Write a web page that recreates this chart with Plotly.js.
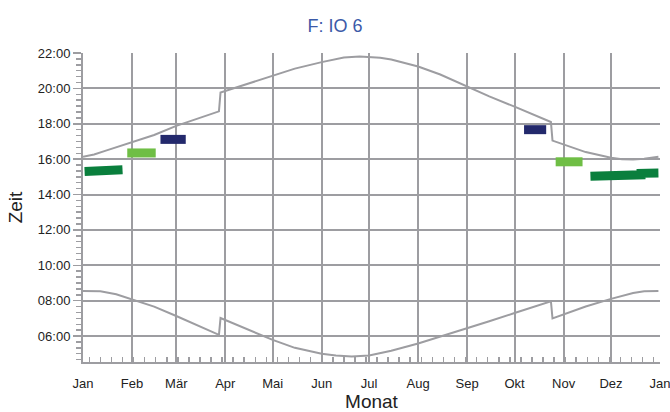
<!DOCTYPE html>
<html>
<head>
<meta charset="utf-8">
<script src="https://cdn.plot.ly/plotly-3.0.1.min.js"></script>
<style>html,body{margin:0;padding:0;background:#fff;}#chart{width:670px;height:412px;}</style>
</head>
<body>
<div id="chart"></div>
<script>
// Month ticks and labels
const monthTicks = ['2015-01-01','2015-02-01','2015-03-01','2015-04-01','2015-05-01','2015-06-01','2015-07-01','2015-08-01','2015-09-01','2015-10-01','2015-11-01','2015-12-01','2016-01-01'];
const monthLabels = ['Jan','Feb','Mär','Apr','Mai','Jun','Jul','Aug','Sep','Okt','Nov','Dez','Jan'];

// Sunrise curve (dates, times)
const sunriseDates = ['2015-01-01','2015-01-12','2015-01-22','2015-02-01','2015-02-15','2015-03-01','2015-03-15','2015-03-28','2015-03-29','2015-04-15','2015-05-01','2015-05-15','2015-06-01','2015-06-10','2015-06-20','2015-07-01','2015-07-15','2015-08-01','2015-08-15','2015-09-01','2015-09-15','2015-10-01','2015-10-15','2015-10-24','2015-10-25','2015-11-01','2015-11-15','2015-12-01','2015-12-15','2015-12-22','2015-12-31'];
const sunriseTimes = ['08:33','08:32','08:22','08:05','07:40','07:08','06:36','06:04','07:01','06:22','05:47','05:20','05:00','04:54','04:51','04:54','05:10','05:35','05:58','06:28','06:50','07:18','07:42','07:58','07:00','07:14','07:40','08:06','08:26','08:32','08:33'];

// Sunset curve
const sunsetDates = ['2015-01-01','2015-01-08','2015-01-15','2015-02-01','2015-02-15','2015-03-01','2015-03-15','2015-03-28','2015-03-29','2015-04-15','2015-05-01','2015-05-15','2015-06-01','2015-06-08','2015-06-15','2015-06-25','2015-07-01','2015-07-08','2015-07-15','2015-08-01','2015-08-15','2015-09-01','2015-09-15','2015-10-01','2015-10-15','2015-10-24','2015-10-25','2015-11-01','2015-11-15','2015-12-01','2015-12-08','2015-12-15','2015-12-22','2015-12-31'];
const sunsetTimes = ['16:08','16:16','16:28','16:57','17:22','17:53','18:18','18:42','19:46','20:15','20:43','21:07','21:29','21:38','21:45','21:48','21:47','21:44','21:38','21:14','20:47','20:05','19:33','18:58','18:26','18:06','17:03','16:50','16:24','16:05','16:00','15:59','16:01','16:08'];

// Event bars
const bar1Dates = ['2015-01-02','2015-01-15','2015-01-15','2015-01-26'];
const bar1Times = ['15:18','15:18','15:24','15:24'];
const bar2Dates = ['2015-01-29','2015-02-16'];
const bar2Times = ['16:21','16:21'];
const bar3Dates = ['2015-02-19','2015-03-07'];
const bar3Times = ['17:07','17:07'];
const bar4Dates = ['2015-10-07','2015-10-21'];
const bar4Times = ['17:40','17:40'];
const bar5Dates = ['2015-10-27','2015-11-13'];
const bar5Times = ['15:51','15:51'];
const bar6Dates = ['2015-11-18','2015-12-02','2015-12-02','2015-12-20','2015-12-20','2015-12-31'];
const bar6Times = ['15:02','15:02','15:07','15:07','15:12','15:13'];

const DAY = '2000-01-01 ';
const t = arr => arr.map(s => DAY + s);

const GRAY = '#9d9da1';
const FONT = 'Liberation Sans, Arial, sans-serif';
const DARK = '#0a7f3d', LIGHT = '#6fbe45', NAVY = '#23296c';

function bar(d, tm, c) {
  return {x: d, y: t(tm), type: 'scatter', mode: 'lines', line: {color: c, width: 9}, hoverinfo: 'skip', showlegend: false};
}

const data = [
  {x: sunriseDates, y: t(sunriseTimes), type: 'scatter', mode: 'lines', line: {color: GRAY, width: 2}, showlegend: false},
  {x: sunsetDates, y: t(sunsetTimes), type: 'scatter', mode: 'lines', line: {color: GRAY, width: 2}, showlegend: false},
  bar(bar1Dates, bar1Times, DARK),
  bar(bar2Dates, bar2Times, LIGHT),
  bar(bar3Dates, bar3Times, NAVY),
  bar(bar4Dates, bar4Times, NAVY),
  bar(bar5Dates, bar5Times, LIGHT),
  bar(bar6Dates, bar6Times, DARK)
];

const layout = {
  width: 670, height: 412,
  margin: {l: 83, r: 10, t: 53, b: 50, pad: 0},
  paper_bgcolor: '#fff', plot_bgcolor: '#fff',
  font: {family: FONT, size: 13, color: '#222'},
  title: {text: 'F: IO 6', font: {family: FONT, size: 18, color: '#3b5aa8'}, x: 0.5, xref: 'container', y: 0.937, yref: 'container', yanchor: 'middle'},
  xaxis: {
    type: 'date',
    range: ['2015-01-01', '2016-01-01'],
    tickmode: 'array', tickvals: monthTicks, ticktext: monthLabels,
    ticks: 'inside', ticklen: 5, tickwidth: 1.5, tickcolor: GRAY,
    ticklabelstandoff: 8, ticklabeloverflow: 'allow',
    showgrid: true, gridcolor: GRAY, gridwidth: 2,
    showline: true, linecolor: GRAY, linewidth: 2,
    zeroline: false,
    tickfont: {family: FONT, size: 13, color: '#222'},
    minor: {tickmode: 'linear', tick0: '2015-01-05', dtick: 604800000, ticks: 'inside', ticklen: 5, tickwidth: 1.5, tickcolor: GRAY, showgrid: false},
    title: {text: 'Monat', font: {family: FONT, size: 19, color: '#222'}, standoff: 9}
  },
  yaxis: {
    type: 'date',
    range: ['2000-01-01 04:32', '2000-01-01 22:00'],
    tickmode: 'linear', tick0: '2000-01-01 00:00', dtick: 7200000, tickformat: '%H:%M',
    ticks: 'outside', ticklen: 8, tickwidth: 1.5, tickcolor: GRAY,
    showgrid: true, gridcolor: GRAY, gridwidth: 2,
    showline: true, linecolor: GRAY, linewidth: 2,
    zeroline: false,
    tickfont: {family: FONT, size: 13, color: '#222'},
    minor: {tickmode: 'linear', tick0: '2000-01-01 00:00', dtick: 1200000, ticks: 'outside', ticklen: 5, tickwidth: 1.5, tickcolor: GRAY, showgrid: false},
    title: {text: 'Zeit', font: {family: FONT, size: 19, color: '#222'}, standoff: 10}
  }
};

Plotly.newPlot('chart', data, layout, {staticPlot: true, displayModeBar: false});
</script>
</body>
</html>
